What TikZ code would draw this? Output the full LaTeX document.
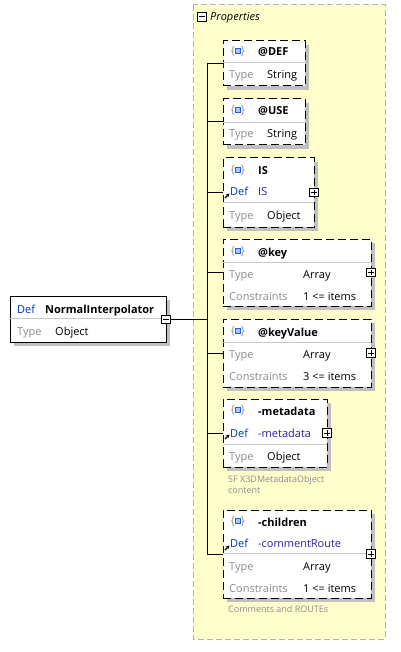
\documentclass[tikz,border=0pt]{standalone}
\usepackage{fontspec}
\setmainfont{Open Sans}
\usetikzlibrary{arrows.meta}
\definecolor{panelfill}{RGB}{255,255,204}
\definecolor{panelline}{RGB}{178,178,178}
\definecolor{shadowc}{RGB}{192,192,192}
\definecolor{sepc}{RGB}{200,200,200}
\definecolor{typegray}{RGB}{140,140,140}
\definecolor{defblue}{RGB}{0,51,204}
\definecolor{refblue}{RGB}{48,32,160}
\definecolor{iconblue}{RGB}{32,96,224}
\definecolor{iconfill}{RGB}{170,200,255}
\newcommand\propbox[5]{%
  \fill[shadowc] (#2+4,#3+4) rectangle (#4+4,#5+4);
  \node[pbox, anchor=north west, minimum width=#4-#2, minimum height=#5-#3] (#1) at (#2,#3) {};
}
\newcommand\boxicon[2]{%
  \node[brace] at (#1+1,#2) {\{};
  \node[brace] at (#1+11,#2) {\}};
  \draw[iconblue, fill=iconfill, line width=0.9pt] (#1+3.5,#2-2.5) rectangle (#1+8.5,#2+2.5);
}
\newcommand\refarrow[2]{%
  \draw[line width=1.2pt, -{Stealth[length=3.5pt,width=3.5pt]}] (#1,#2) -- (#1+4.5,#2-4.5);
}
\begin{document}
\begin{tikzpicture}[x=1pt,y=-1pt,
  pbox/.style={draw=black, fill=white, line width=1pt, dash pattern=on 8pt off 4pt, inner sep=0, outer sep=0},
  mainbox/.style={draw=black, fill=white, line width=1pt, inner sep=0, outer sep=0},
  sepline/.style={sepc, line width=0.8pt},
  conn/.style={black, line width=1pt},
  hdr/.style={anchor=base west, inner sep=0, font=\fontsize{11}{12}\selectfont\bfseries},
  lbl/.style={anchor=base west, inner sep=0, font=\fontsize{11}{12}\selectfont, text=typegray},
  dlbl/.style={anchor=base west, inner sep=0, font=\fontsize{11}{12}\selectfont, text=defblue},
  val/.style={anchor=base west, inner sep=0, font=\fontsize{11}{12}\selectfont, text=black},
  rval/.style={anchor=base west, inner sep=0, font=\fontsize{11}{12}\selectfont, text=refblue},
  captext/.style={anchor=base west, inner sep=0, font=\fontsize{9}{10}\selectfont, text=typegray},
  brace/.style={inner sep=0, font=\fontsize{11}{11}\selectfont, text=typegray},
  sqbtn/.style={draw=black, fill=white, minimum size=8.5pt, inner sep=0, line width=0.8pt},
  plusbtn/.style={sqbtn, path picture={\draw[line width=0.8pt] ([xshift=1.5pt]path picture bounding box.west) -- ([xshift=-1.5pt]path picture bounding box.east); \draw[line width=0.8pt] ([yshift=-1.5pt]path picture bounding box.north) -- ([yshift=1.5pt]path picture bounding box.south);}},
  minusbtn/.style={sqbtn, path picture={\draw[line width=0.8pt] ([xshift=1.5pt]path picture bounding box.west) -- ([xshift=-1.5pt]path picture bounding box.east);}}
]
\useasboundingbox (0,0) rectangle (400,652);
\fill[white] (0,0) rectangle (400,652);
% properties panel
\draw[panelline, fill=panelfill, line width=1pt, dash pattern=on 6pt off 3pt] (193,5) rectangle (385,639);
\node[minusbtn, minimum size=9pt] (pm) at (201.5,16.5) {};
\node[anchor=base west, inner sep=0, font=\fontsize{11}{12}\selectfont\itshape] (ptitle) at (210,21) {Properties};

% main element
\fill[shadowc] (14,300) rectangle (170,346);
\node[mainbox, anchor=north west, minimum width=156, minimum height=46] (main) at (10,296) {};
\draw[sepline] (10,318) -- (166,318);
\node[dlbl] at (17,313) {Def};
\node[hdr] at (45,313) {NormalInterpolator};
\node[lbl] at (17,335) {Type};
\node[val] at (55,335) {Object};
\node[minusbtn] (mm) at (166,319.5) {};

% boxes
\propbox{def}{223}{41}{305}{86}
\propbox{use}{223}{99}{305}{145}
\propbox{is}{223}{158}{314}{227}
\propbox{key}{223}{239}{371}{306}
\propbox{kv}{223}{319}{371}{387}
\propbox{md}{223}{399}{327}{467}
\propbox{ch}{223}{510}{371}{598}

% bus
\coordinate (bustop) at (207,63.5);
\coordinate (busbot) at (207,554);
\coordinate (busmid) at (207,319.5);
\draw[conn] (mm.east) -- (busmid);
\draw[conn] (bustop) -- (busbot);
\draw[conn] (207,63.5) -- (def.west);
\draw[conn] (207,122) -- (use.west);
\draw[conn] (207,192.5) -- (is.west);
\draw[conn] (207,272.5) -- (key.west);
\draw[conn] (207,353) -- (kv.west);
\draw[conn] (207,433) -- (md.west);
\draw[conn] (207,554) -- (ch.west);

% @DEF
\boxicon{232}{51}
\node[hdr] at (258,56) {@DEF};
\draw[sepline] (223,62.5) -- (305,62.5);
\node[lbl] at (229,79) {Type};
\node[val] at (267,79) {String};

% @USE
\boxicon{232}{110}
\node[hdr] at (258,115) {@USE};
\draw[sepline] (223,122) -- (305,122);
\node[lbl] at (229,138) {Type};
\node[val] at (267,138) {String};

% IS
\boxicon{232}{170}
\node[hdr] at (258,175) {IS};
\refarrow{225}{198}
\node[dlbl] at (230,196) {Def};
\node[rval] at (258,196) {IS};
\draw[sepline] (223,202.5) -- (314,202.5);
\node[lbl] at (229,219) {Type};
\node[val] at (267,219) {Object};
\node[plusbtn] (isp) at (is.east) {};

% @key
\boxicon{232}{251}
\node[hdr] at (258,256) {@key};
\draw[sepline] (223,262) -- (371,262);
\node[lbl] at (229,278) {Type};
\node[val] at (303,278) {Array};
\node[lbl] at (229,300) {Constraints};
\node[val] at (303,300) {1 <= items};
\node[plusbtn] (keyp) at (key.east) {};

% @keyValue
\boxicon{232}{331}
\node[hdr] at (258,336) {@keyValue};
\draw[sepline] (223,342) -- (371,342);
\node[lbl] at (229,358) {Type};
\node[val] at (303,358) {Array};
\node[lbl] at (229,380) {Constraints};
\node[val] at (303,380) {3 <= items};
\node[plusbtn] (kvp) at (kv.east) {};

% -metadata
\boxicon{232}{410}
\node[hdr] at (258,415) {-metadata};
\refarrow{225}{439}
\node[dlbl] at (230,437) {Def};
\node[rval] at (258,437) {-metadata};
\draw[sepline] (223,444) -- (327,444);
\node[lbl] at (229,460) {Type};
\node[val] at (267,460) {Object};
\node[plusbtn] (mdp) at (md.east) {};
\node[captext] at (228,482) {SF X3DMetadataObject};
\node[captext] at (228,493.5) {content};

% -children
\boxicon{232}{521}
\node[hdr] at (258,526) {-children};
\refarrow{225}{550}
\node[dlbl] at (230,547) {Def};
\node[rval] at (258,547) {-commentRoute};
\draw[sepline] (223,553) -- (371,553);
\node[lbl] at (229,570) {Type};
\node[val] at (303,570) {Array};
\node[lbl] at (229,592) {Constraints};
\node[val] at (303,592) {1 <= items};
\node[plusbtn] (chp) at (ch.east) {};
\node[captext] at (228,612.5) {Comments and ROUTEs};
\end{tikzpicture}
\end{document}
